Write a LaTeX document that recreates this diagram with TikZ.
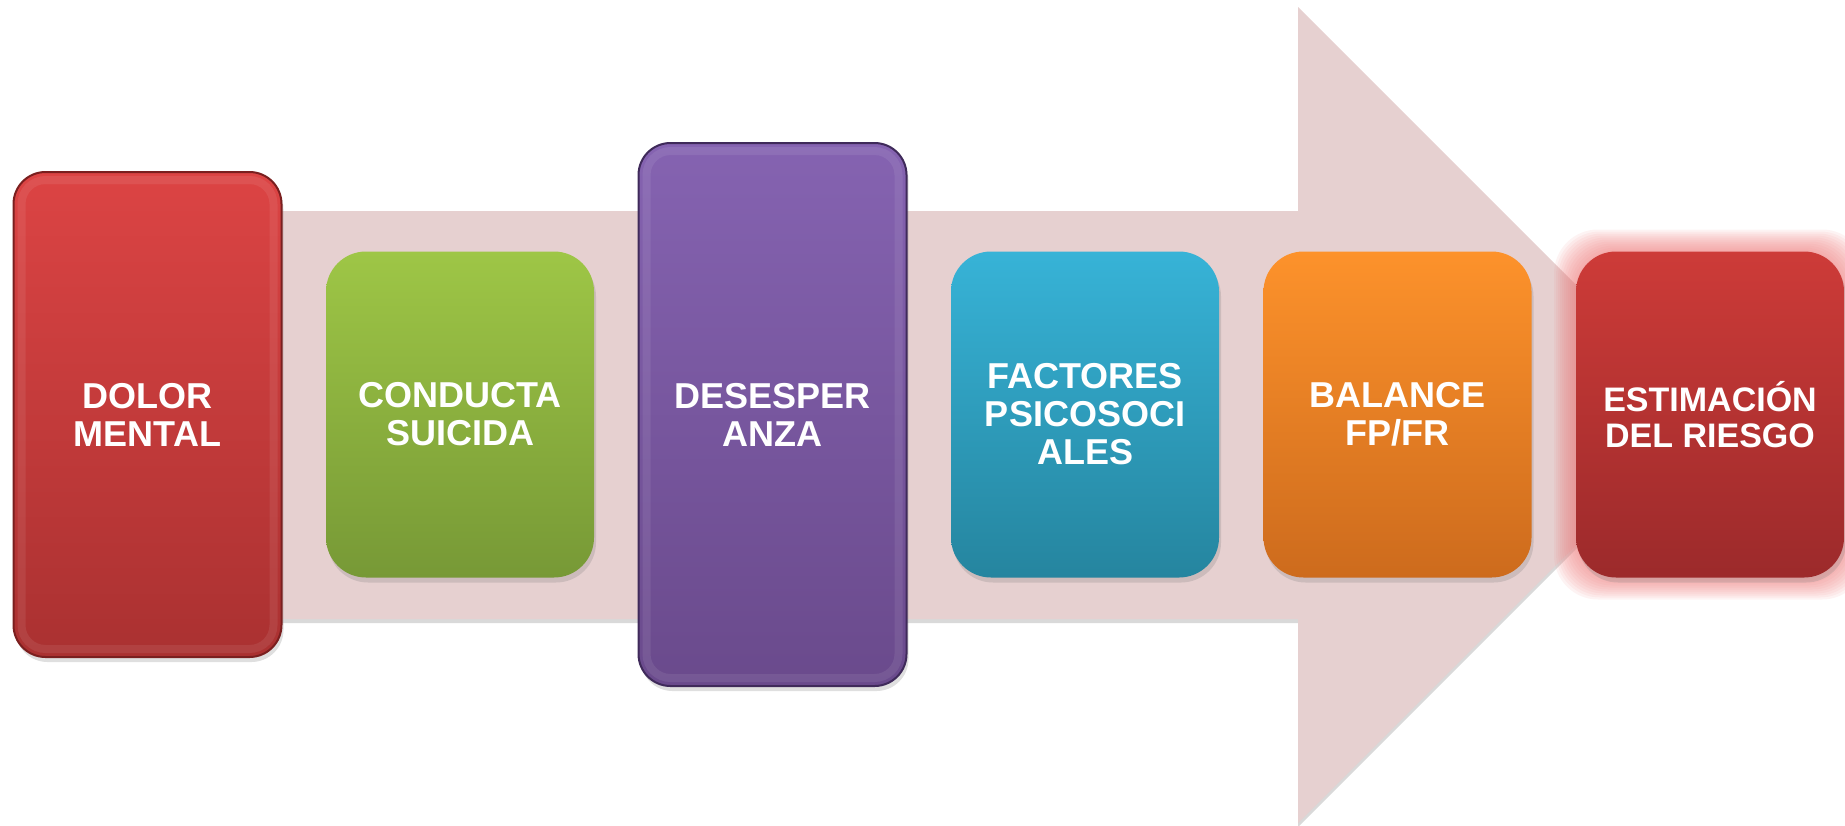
\documentclass[tikz,border=0pt]{standalone}
\usepackage{fontspec}
\setmainfont{Liberation Sans}
\usetikzlibrary{positioning,shadows,backgrounds}
\definecolor{arrowpink}{HTML}{E6D0D0}
\definecolor{redtop}{HTML}{DC4444}
\definecolor{redbot}{HTML}{AA3131}
\definecolor{redline}{HTML}{7A1F1F}
\definecolor{greentop}{HTML}{9EC646}
\definecolor{greenbot}{HTML}{779936}
\definecolor{purpletop}{HTML}{8563B1}
\definecolor{purplebot}{HTML}{6A4A8C}
\definecolor{purpleline}{HTML}{3F2A5A}
\definecolor{cyantop}{HTML}{37B3D7}
\definecolor{cyanbot}{HTML}{25859F}
\definecolor{orangetop}{HTML}{FD922B}
\definecolor{orangebot}{HTML}{CD6B1D}
\definecolor{risktop}{HTML}{CD3B38}
\definecolor{riskbot}{HTML}{9C2A2B}
\definecolor{glowpink}{HTML}{EE7F7F}
\tikzset{
  stepbox/.style={rectangle, rounded corners=20pt, minimum width=134pt,
    minimum height=163pt, inner sep=2pt, outer sep=0pt, align=center, text=white,
    font=\bfseries\fontsize{18}{19}\selectfont,
    drop shadow={opacity=.25, shadow xshift=1pt, shadow yshift=-2.5pt}},
  bigbox/.style={stepbox, rounded corners=16pt, line width=1pt},
  bevel/.style={white, opacity=.08, line width=4pt, rounded corners=12pt}
}
\begin{document}
\begin{tikzpicture}[x=0.5pt,y=-0.5pt]
  \useasboundingbox (0,0) rectangle (1845,825);
  % steps
  \node[bigbox, minimum height=242.5pt, top color=redtop, bottom color=redbot, draw=redline]
    (dolor) at (147.5,414.5) {DOLOR\\MENTAL};
  \node[stepbox, top color=greentop, bottom color=greenbot, right=22.25pt of dolor]
    (conducta) {CONDUCTA\\SUICIDA};
  \node[bigbox, minimum height=271.5pt, top color=purpletop, bottom color=purplebot, draw=purpleline, right=22.25pt of conducta]
    (desesp) {DESESPER\\ANZA};
  \node[stepbox, top color=cyantop, bottom color=cyanbot, right=22.25pt of desesp]
    (factores) {FACTORES\\PSICOSOCI\\ALES};
  \node[stepbox, top color=orangetop, bottom color=orangebot, right=22.25pt of factores]
    (balance) {BALANCE\\FP/FR};
  \node[stepbox, top color=risktop, bottom color=riskbot, font=\bfseries\fontsize{17}{18}\selectfont, drop shadow={opacity=0}, right=22.25pt of balance]
    (riesgo) {ESTIMACIÓN\\DEL RIESGO};
  % bevel of the tall boxes
  \foreach \b in {dolor,desesp}
    \draw[bevel] ([shift={(4pt,4pt)}]\b.south west) rectangle ([shift={(-4pt,-4pt)}]\b.north east);
  \begin{pgfonlayer}{background}
    \fill[arrowpink, drop shadow={opacity=.3, shadow xshift=0pt, shadow yshift=-2pt}]
      (40,211) -- (1298,211) -- (1298,7) -- (1706,415) -- (1298,823) -- (1298,619) -- (40,619) -- cycle;
    % glow
    \foreach \g in {1,...,11}
      \fill[glowpink, opacity=.09, rounded corners=22pt]
        ([shift={(-\g pt,-\g pt)}]riesgo.south west) rectangle ([shift={(\g pt,\g pt)}]riesgo.north east);
  \end{pgfonlayer}
\end{tikzpicture}
\end{document}
